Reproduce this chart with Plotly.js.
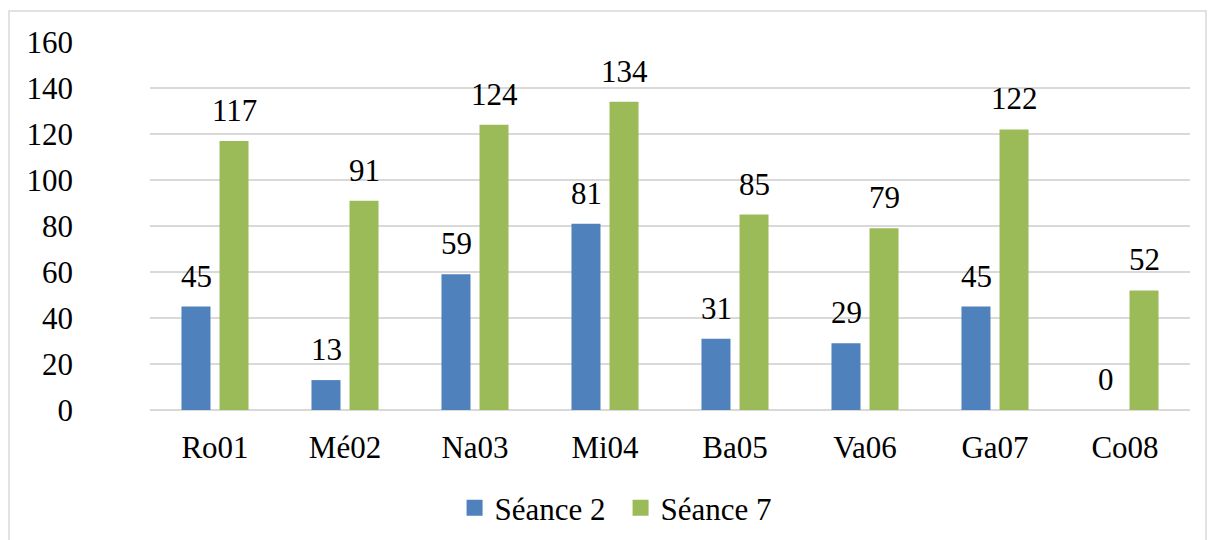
<!DOCTYPE html>
<html>
<head>
<meta charset="utf-8">
<script src="https://cdn.plot.ly/plotly-3.0.1.min.js"></script>
<style>
body{margin:0;background:#fff;}
#chart{width:1208px;height:540px;position:relative;}
#fontload{position:absolute;left:0;top:0;font:22px 'Liberation Serif';color:rgba(0,0,0,0.01);pointer-events:none;}
</style>
</head>
<body>
<div id="fontload">Séance 0123456789 RoMéNaMiBaVaGaCo</div>
<div id="chart"></div>
<script>
const categories = ["Ro01", "Mé02", "Na03", "Mi04", "Ba05", "Va06", "Ga07", "Co08"];
const seance2 = [45, 13, 59, 81, 31, 29, 45, 0];
const seance7 = [117, 91, 124, 134, 85, 79, 122, 52];
const seriesNames = ["Séance 2", "Séance 7"];
const yTicks = [0, 20, 40, 60, 80, 100, 120, 140, 160];

const BLUE = "#4f81bd", GREEN = "#9bbb59";
const FONT = "Liberation Serif";
const FS = 31;

const traces = [
  {type: "bar", x: categories, y: seance2, name: seriesNames[0], showlegend: false,
   marker: {color: BLUE, line: {width: 0}}, hoverinfo: "none"},
  {type: "bar", x: categories, y: seance7, name: seriesNames[1], showlegend: false,
   marker: {color: GREEN, line: {width: 0}}, hoverinfo: "none"},
  {type: "scatter", mode: "markers", x: [null], y: [null], name: seriesNames[0],
   marker: {symbol: "square", size: 16, color: BLUE}},
  {type: "scatter", mode: "markers", x: [null], y: [null], name: seriesNames[1],
   marker: {symbol: "square", size: 16, color: GREEN}}
];

const annotations = [];
categories.forEach((c, i) => {
  annotations.push({x: c, y: seance2[i], xref: "x", yref: "y", text: String(seance2[i]),
    showarrow: false, xshift: -19, yshift: 11, yanchor: "bottom",
    font: {family: FONT, size: FS, color: "#000"}});
  annotations.push({x: c, y: seance7[i], xref: "x", yref: "y", text: String(seance7[i]),
    showarrow: false, xshift: 19, yshift: 11, yanchor: "bottom",
    font: {family: FONT, size: FS, color: "#000"}});
});

const layout = {
  width: 1208, height: 540,
  margin: {l: 150, r: 18, t: 42, b: 130, pad: 0},
  paper_bgcolor: "rgba(0,0,0,0)", plot_bgcolor: "rgba(0,0,0,0)",
  font: {family: FONT, size: FS, color: "#000"},
  barmode: "group", bargap: 0.415, bargroupgap: 0.237,
  showlegend: true,
  legend: {orientation: "h", xref: "container", yref: "container", x: 0.3763, y: 0.059,
    xanchor: "left", yanchor: "middle", font: {family: FONT, size: FS, color: "#000"},
    entrywidth: 121, entrywidthmode: "pixels", itemclick: false},
  xaxis: {type: "category", showgrid: false, showline: false, zeroline: false,
    ticks: "", ticklabelstandoff: 16, tickfont: {family: FONT, size: FS, color: "#000"}},
  yaxis: {range: [0, 160], tickvals: yTicks, showgrid: true, gridcolor: "#d9d9d9", gridwidth: 1.5,
    zeroline: true, zerolinecolor: "#d9d9d9", zerolinewidth: 1.5, showline: false, ticks: "",
    ticklabelstandoff: 76, tickfont: {family: FONT, size: FS, color: "#000"}},
  annotations: annotations,
  shapes: [{type: "rect", xref: "paper", yref: "paper",
    x0: (9 - 150) / 1040, x1: (1206 - 150) / 1040,
    y0: (410 - 545) / 368, y1: (410 - 11) / 368,
    line: {color: "#d9d9d9", width: 1.5}, fillcolor: "rgba(0,0,0,0)", layer: "below"}]
};

function draw() {
  Plotly.newPlot("chart", traces, layout, {displayModeBar: false, staticPlot: true});
}
if (document.fonts && document.fonts.load) {
  document.fonts.load(FS + "px '" + FONT + "'").then(draw, draw);
} else {
  draw();
}
</script>
</body>
</html>
